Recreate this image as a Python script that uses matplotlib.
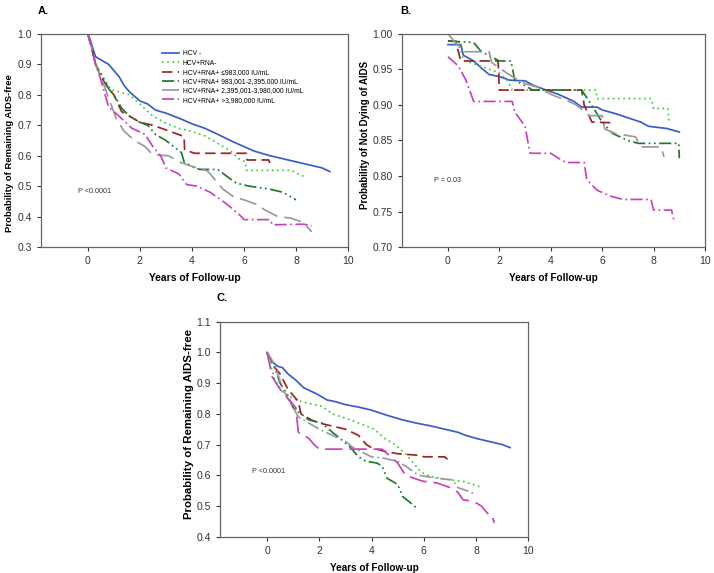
import matplotlib.pyplot as plt
from matplotlib.ticker import FormatStrFormatter

plt.rcParams["font.family"] = ["Liberation Sans", "DejaVu Sans"]

labels = [
    "HCV -",
    "HCV+RNA-",
    "HCV+RNA+ \u2264983,000 IU/mL",
    "HCV+RNA+ 983,001-2,395,000 IU/mL",
    "HCV+RNA+ 2,395,001-3,980,000 IU/mL",
    "HCV+RNA+ >3,980,000 IU/mL",
]
colors = ["#3a5ccc", "#3ecb3e", "#9b2424", "#1f7a2f", "#9a9a9a", "#c844b8"]

# panel A: remaining AIDS-free (curve vertices: years, survival)
a_t = [
    [0, 0.1, 0.2, 0.3, 0.5, 0.8, 1.0, 1.2, 1.4, 1.6, 2.0, 2.3, 2.6, 3.0, 3.3, 3.6, 4.0, 4.5, 5.0, 5.6, 6.0, 6.4, 7.0, 7.5, 8.0, 8.5, 9.0, 9.3],
    [0, 0.1, 0.3, 0.5, 0.9, 1.2, 1.6, 2.0, 2.5, 3.0, 3.5, 4.0, 4.5, 5.0, 5.5, 5.8, 6.05, 6.1, 7.8, 8.3],
    [0, 0.1, 0.3, 0.5, 0.8, 1.0, 1.3, 1.6, 2.0, 2.5, 3.0, 3.7, 3.72, 4.1, 6.1, 6.12, 6.95, 7.0],
    [0, 0.1, 0.3, 0.5, 0.8, 1.0, 1.3, 1.6, 2.0, 2.3, 2.6, 3.0, 3.3, 3.6, 3.7, 4.0, 4.3, 5.0, 5.3, 5.7, 6.2, 7.0, 7.5, 8.0],
    [0, 0.1, 0.3, 0.5, 0.8, 1.1, 1.4, 1.8, 2.2, 2.5, 3.1, 3.5, 4.0, 4.6, 4.9, 5.2, 5.6, 6.0, 6.5, 6.8, 7.3, 7.8, 8.3, 8.6],
    [0, 0.1, 0.3, 0.5, 0.8, 1.2, 1.7, 2.2, 2.5, 2.8, 3.0, 3.5, 3.8, 4.2, 4.7, 5.2, 5.5, 5.9, 6.0, 7.0, 7.1, 8.3, 8.6],
]
a_s = [
    [1.0, 0.98, 0.95, 0.925, 0.915, 0.90, 0.88, 0.86, 0.83, 0.81, 0.78, 0.77, 0.75, 0.74, 0.73, 0.72, 0.705, 0.69, 0.67, 0.645, 0.63, 0.615, 0.60, 0.59, 0.58, 0.57, 0.56, 0.548],
    [1.0, 0.97, 0.90, 0.87, 0.816, 0.81, 0.80, 0.77, 0.73, 0.707, 0.69, 0.68, 0.665, 0.64, 0.615, 0.59, 0.58, 0.552, 0.552, 0.532],
    [1.0, 0.97, 0.90, 0.86, 0.82, 0.80, 0.745, 0.73, 0.71, 0.70, 0.685, 0.663, 0.62, 0.608, 0.608, 0.586, 0.586, 0.575],
    [1.0, 0.97, 0.90, 0.87, 0.82, 0.80, 0.756, 0.73, 0.71, 0.70, 0.67, 0.65, 0.63, 0.61, 0.58, 0.565, 0.555, 0.555, 0.535, 0.51, 0.50, 0.49, 0.48, 0.455],
    [1.0, 0.97, 0.90, 0.86, 0.79, 0.72, 0.68, 0.65, 0.63, 0.603, 0.60, 0.58, 0.565, 0.55, 0.52, 0.49, 0.465, 0.455, 0.44, 0.422, 0.40, 0.395, 0.38, 0.35],
    [1.0, 0.97, 0.90, 0.85, 0.76, 0.73, 0.69, 0.67, 0.63, 0.60, 0.56, 0.54, 0.505, 0.50, 0.48, 0.45, 0.43, 0.40, 0.39, 0.39, 0.373, 0.375, 0.37],
]

# panel B: not dying of AIDS
b_t = [
    [0, 0.5, 0.6, 1.0, 1.3, 1.6, 2.0, 2.4, 3.0, 3.3, 3.9, 4.3, 4.9, 5.2, 5.8, 6.0, 6.5, 7.0, 7.5, 7.8, 8.5, 9.0],
    [0, 0.4, 0.6, 1.5, 2.0, 2.3, 2.5, 5.75, 5.8, 7.9, 8.0, 8.55, 8.6],
    [0, 0.3, 0.5, 1.95, 2.0, 5.2, 5.3, 5.6, 6.4],
    [0, 1.0, 1.3, 2.0, 2.45, 2.6, 3.3, 5.2, 5.5, 6.0, 6.4, 7.0, 7.4, 8.98, 9.0],
    [0, 0.6, 1.6, 1.7, 2.0, 2.5, 3.0, 3.5, 4.0, 4.7, 5.0, 5.5, 6.0, 6.1, 6.5, 7.3, 7.5, 8.3, 8.4],
    [0, 0.4, 0.7, 1.0, 2.5, 2.6, 3.0, 3.1, 3.2, 4.0, 4.3, 4.6, 5.3, 5.4, 5.8, 6.3, 6.8, 7.0, 7.9, 8.0, 8.7, 8.8],
]
b_s = [
    [0.985, 0.985, 0.97, 0.962, 0.952, 0.943, 0.94, 0.935, 0.934, 0.928, 0.92, 0.915, 0.905, 0.897, 0.897, 0.893, 0.888, 0.882, 0.876, 0.87, 0.867, 0.862],
    [0.99, 0.99, 0.963, 0.952, 0.945, 0.935, 0.921, 0.921, 0.909, 0.909, 0.895, 0.895, 0.878],
    [0.99, 0.99, 0.962, 0.962, 0.921, 0.921, 0.90, 0.876, 0.875],
    [0.99, 0.988, 0.975, 0.962, 0.962, 0.935, 0.921, 0.921, 0.905, 0.876, 0.86, 0.85, 0.846, 0.846, 0.825],
    [1.0, 0.975, 0.975, 0.96, 0.952, 0.94, 0.93, 0.925, 0.915, 0.905, 0.90, 0.885, 0.885, 0.866, 0.86, 0.855, 0.841, 0.841, 0.827],
    [0.968, 0.955, 0.935, 0.905, 0.905, 0.89, 0.87, 0.85, 0.832, 0.832, 0.825, 0.819, 0.819, 0.795, 0.78, 0.772, 0.767, 0.767, 0.767, 0.752, 0.752, 0.736],
]

# panel C: remaining AIDS-free, second cohort
c_t = [
    [0, 0.2, 0.4, 0.6, 0.8, 1.1, 1.4, 1.9, 2.3, 2.6, 3.0, 3.5, 4.0, 4.6, 5.2, 5.7, 6.3, 6.8, 7.3, 7.6, 8.0, 8.5, 9.0, 9.3],
    [0, 0.3, 0.6, 1.0, 1.3, 1.8, 2.1, 2.5, 3.2, 3.8, 4.1, 4.5, 4.9, 5.3, 5.6, 5.9, 6.3, 7.0, 7.5, 7.9, 8.2],
    [0, 0.2, 0.3, 0.5, 0.8, 1.2, 1.3, 1.7, 2.0, 2.5, 3.0, 3.5, 3.8, 4.0, 4.4, 5.0, 5.8, 6.0, 6.8, 7.0],
    [0, 0.3, 0.5, 0.8, 1.0, 1.3, 1.6, 2.1, 2.5, 2.8, 3.2, 3.5, 3.8, 4.2, 4.4, 4.6, 5.0, 5.2, 5.5, 5.7],
    [0, 0.3, 0.6, 1.0, 1.2, 1.6, 2.0, 2.5, 3.0, 3.3, 4.0, 4.5, 5.0, 5.3, 5.8, 6.5, 7.1, 7.3, 7.8, 8.0],
    [0, 0.2, 0.5, 0.8, 1.1, 1.2, 1.6, 1.8, 2.0, 4.4, 4.6, 5.0, 5.3, 5.8, 6.0, 6.5, 7.0, 7.3, 7.5, 7.9, 8.2, 8.5, 8.6, 8.7],
]
c_s = [
    [1.0, 0.97, 0.955, 0.95, 0.93, 0.91, 0.885, 0.865, 0.845, 0.84, 0.83, 0.822, 0.812, 0.795, 0.78, 0.77, 0.76, 0.75, 0.74, 0.73, 0.72, 0.71, 0.70, 0.69],
    [1.0, 0.91, 0.87, 0.85, 0.84, 0.83, 0.825, 0.80, 0.78, 0.76, 0.75, 0.72, 0.70, 0.67, 0.64, 0.61, 0.595, 0.585, 0.58, 0.57, 0.56],
    [1.0, 0.97, 0.95, 0.93, 0.88, 0.84, 0.80, 0.78, 0.77, 0.76, 0.75, 0.73, 0.70, 0.69, 0.68, 0.67, 0.665, 0.66, 0.66, 0.645],
    [1.0, 0.95, 0.90, 0.86, 0.82, 0.80, 0.78, 0.77, 0.74, 0.72, 0.69, 0.66, 0.645, 0.64, 0.63, 0.59, 0.57, 0.53, 0.51, 0.495],
    [1.0, 0.96, 0.88, 0.82, 0.79, 0.77, 0.75, 0.73, 0.71, 0.69, 0.66, 0.655, 0.645, 0.63, 0.60, 0.59, 0.585, 0.56, 0.545, 0.535],
    [1.0, 0.92, 0.88, 0.85, 0.82, 0.74, 0.72, 0.70, 0.685, 0.685, 0.67, 0.64, 0.60, 0.585, 0.58, 0.575, 0.56, 0.545, 0.52, 0.515, 0.50, 0.47, 0.47, 0.445],
]

dash_ab = ["-", (0, (1, 2)), (0, (6, 3)), (0, (7, 2, 1, 2, 1, 2)), (0, (10, 4)), (0, (7, 2, 1, 2))]
dash_c = ["-", (0, (1, 2)), (0, (6, 3)), (0, (7, 2, 1, 2, 1, 2)), (0, (7, 2, 1, 2)), (0, (10, 4))]


def draw(ax, times, surv, styles, ylim, yticks, fmt, ylabel, ysize, ypos, xsize, ptext, pxy):
    for t, s, c, ls in zip(times, surv, colors, styles):
        ax.plot(t, s, color=c, linestyle=ls, lw=1.25)
    ax.set_xlim(-1.8, 10)
    ax.set_ylim(*ylim)
    ax.set_xticks([0, 2, 4, 6, 8, 10])
    ax.set_yticks(yticks)
    ax.yaxis.set_major_formatter(FormatStrFormatter(fmt))
    ax.tick_params(labelsize=7.5, length=3, width=0.8, colors="#333333")
    for sp in ax.spines.values():
        sp.set_color("#666666")
        sp.set_linewidth(0.9)
    ax.set_xlabel("Years of Follow-up", fontsize=xsize, fontweight="bold", labelpad=5)
    ax.set_ylabel(ylabel, fontsize=ysize, fontweight="bold")
    ax.yaxis.set_label_coords(*ypos)
    ax.text(pxy[0], pxy[1], ptext, fontsize=5.2, color="#333333", va="center")


fig = plt.figure(figsize=(7.14, 5.73), dpi=100)
axA = fig.add_axes([0.0574, 0.5689, 0.430, 0.3718])
axB = fig.add_axes([0.5626, 0.5689, 0.4248, 0.3718])
axC = fig.add_axes([0.3081, 0.0634, 0.4318, 0.3752])

draw(axA, a_t, a_s, dash_ab, (0.3, 1.0), [0.3, 0.4, 0.5, 0.6, 0.7, 0.8, 0.9, 1.0], "%.1f",
     "Probability of Remaining AIDS-free", 6.8, (-0.088, 0.44), 7.4,
     "P <0.0001", (-0.39, 0.482))
draw(axB, b_t, b_s, dash_ab, (0.70, 1.00), [0.70, 0.75, 0.80, 0.85, 0.90, 0.95, 1.00], "%.2f",
     "Probability of Not Dying of AIDS", 7.0, (-0.105, 0.526), 7.2,
     "P = 0.03", (-0.55, 0.793))
draw(axC, c_t, c_s, dash_c, (0.4, 1.1), [0.4, 0.5, 0.6, 0.7, 0.8, 0.9, 1.0, 1.1], "%.1f",
     "Probability of Remaining AIDS-free", 8.2, (-0.084, 0.522), 7.2,
     "P <0.0001", (-0.59, 0.612))

axA.legend(labels, loc="upper left", bbox_to_anchor=(0.38, 0.945), frameon=False,
           fontsize=4.9, handlelength=2.4, handletextpad=0.6, labelspacing=0.33,
           borderpad=0.2)

fig.text(38 / 714, 1 - 11 / 573, "A.", fontsize=8, fontweight="bold", va="center")
fig.text(400 / 714, 1 - 11 / 573, "B.", fontsize=8, fontweight="bold", va="center")
fig.text(217 / 714, 1 - 298 / 573, "C.", fontsize=8, fontweight="bold", va="center")

fig.savefig("out.png", dpi=100)
